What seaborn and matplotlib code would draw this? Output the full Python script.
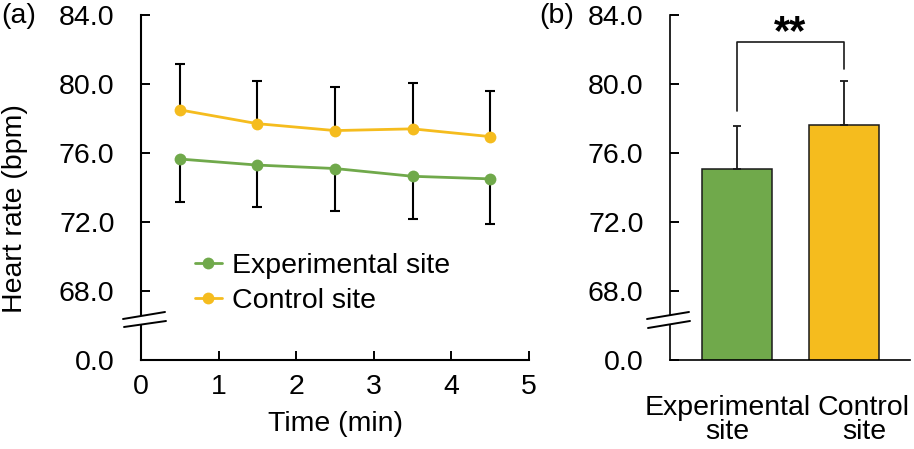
import matplotlib
matplotlib.use("Agg")
import matplotlib.pyplot as plt
import matplotlib.transforms as mtransforms
import seaborn as sns
import pandas as pd
import numpy as np

# ---------------- data ----------------
time_min = [0.5, 1.5, 2.5, 3.5, 4.5]
exp_mean = [75.65, 75.3, 75.1, 74.65, 74.5]
exp_sd = [2.5, 2.45, 2.45, 2.45, 2.6]
ctrl_mean = [78.5, 77.7, 77.3, 77.4, 76.95]
ctrl_sd = [2.65, 2.45, 2.55, 2.65, 2.65]

sites = ["Experimental site", "Control site"]
site_labels = ["Experimental\nsite", "Control\nsite"]
site_mean = [75.05, 77.6]
site_sd = [2.5, 2.55]

y_ticks = [64, 68, 72, 76, 80, 84]
y_ticklabels = ["0.0", "68.0", "72.0", "76.0", "80.0", "84.0"]
x_ticks = [0, 1, 2, 3, 4, 5]

GREEN = "#70A94B"
YELLOW = "#F5BC1E"

sns.set_theme(style="ticks")
plt.rcParams["font.family"] = ["Liberation Sans", "DejaVu Sans"]
for k in ("text.color", "axes.labelcolor", "xtick.color", "ytick.color",
          "axes.edgecolor"):
    plt.rcParams[k] = "black"
FS = 20.5

W, H = 914, 449
fig = plt.figure(figsize=(W / 100, H / 100), dpi=100)
ax1 = fig.add_axes([141 / W, 1 - 360 / H, 388 / W, 345 / H])
ax2 = fig.add_axes([670 / W, 1 - 360 / H, 240 / W, 345 / H])

# ---------------- left panel ----------------
df = pd.DataFrame({
    "time": time_min * 2,
    "hr": exp_mean + ctrl_mean,
    "site": [sites[0]] * len(time_min) + [sites[1]] * len(time_min),
})
ax1.errorbar(time_min, exp_mean, yerr=[exp_sd, np.zeros(len(exp_sd))], fmt="none",
             ecolor="black", elinewidth=1.5, capsize=3.5, capthick=1.5, zorder=1.5)
ax1.errorbar(time_min, ctrl_mean, yerr=[np.zeros(len(ctrl_sd)), ctrl_sd], fmt="none",
             ecolor="black", elinewidth=1.5, capsize=3.5, capthick=1.5, zorder=1.5)
sns.lineplot(data=df, x="time", y="hr", hue="site", hue_order=sites,
             palette={sites[0]: GREEN, sites[1]: YELLOW}, marker="o",
             markersize=8.5, markeredgewidth=0, linewidth=2, ax=ax1, zorder=3)
ax1.set_xlim(0, 5)
ax1.set_ylim(64, 84)
ax1.set_xticks(x_ticks)
ax1.set_xticklabels([str(t) for t in x_ticks])
ax1.set_yticks(y_ticks)
ax1.set_yticklabels(y_ticklabels)
ax1.set_xlabel("")
ax1.set_ylabel("")
handles, labels = ax1.get_legend_handles_labels()
ax1.legend(handles, labels, loc="upper left", bbox_to_anchor=(0.138, 0.31),
           frameon=False, fontsize=FS, handlelength=0.95, handletextpad=0.35,
           labelspacing=0.3, borderpad=0, borderaxespad=0, title=None)

# ---------------- right panel ----------------
dfb = pd.DataFrame({"site": sites, "hr": site_mean})
sns.barplot(data=dfb, x="site", y="hr", hue="site", hue_order=sites,
            palette={sites[0]: GREEN, sites[1]: YELLOW}, width=0.66, saturation=1,
            edgecolor="#1a1a1a", linewidth=1.1, legend=False, ax=ax2)
ax2.errorbar([0, 1], site_mean, yerr=[np.zeros(2), site_sd], fmt="none",
             ecolor="#1a1a1a", elinewidth=1.3, capsize=3, capthick=1.3, zorder=5)
ax2.set_xlim(-0.63, 1.62)
ax2.set_ylim(64, 84)
ax2.set_yticks(y_ticks)
ax2.set_yticklabels(y_ticklabels)
ax2.set_xticks([0, 1])
ax2.set_xticklabels(site_labels, linespacing=0.9)
ax2.set_xlabel("")
ax2.set_ylabel("")

# significance bracket
ax2.plot([0, 0, 1, 1], [78.43, 82.43, 82.43, 80.87], color="#1a1a1a", lw=1.2,
         clip_on=False)
ax2.text(0.5, 82.3, "**", ha="center", va="baseline", fontsize=30,
         fontweight="bold", clip_on=False)

# ---------------- styling ----------------
for ax in (ax1, ax2):
    sns.despine(ax=ax)
    ax.tick_params(axis="both", direction="in", labelsize=FS, colors="black",
                   length=6.5, width=1.4)
    ax.tick_params(axis="y", pad=19)
    ax.tick_params(axis="x", pad=10)
    for s in ("left", "bottom"):
        ax.spines[s].set_linewidth(1.5)
        ax.spines[s].set_color("black")
ax2.tick_params(axis="x", length=0, pad=25)
for s in ("left", "bottom"):
    ax2.spines[s].set_linewidth(1.2)

# shift category labels slightly as in the reference
shifts = [-10, 20]
for lab, dx in zip(ax2.get_xticklabels(), shifts):
    lab.set_transform(lab.get_transform() +
                      mtransforms.ScaledTranslation(dx / 100, 0, fig.dpi_scale_trans))


def axis_break(ax, ax_left_px, ax_w_px, up, lo, gap):
    """Draw a double-slash break mark on the y-axis (pixel geometry relative to axes)."""
    def ax_xy(px, py):
        return ((px - ax_left_px) / ax_w_px, (360 - py) / 345)
    x0, y0 = ax_xy(ax_left_px, gap[0])
    _, y1 = ax_xy(ax_left_px, gap[1])
    ax.plot([x0, x0], [y0, y1], color="white", lw=4, transform=ax.transAxes,
            clip_on=False, zorder=10, solid_capstyle="butt")
    for seg in (up, lo):
        (ax0, ay0), (ax1_, ay1) = ax_xy(*seg[0]), ax_xy(*seg[1])
        ax.plot([ax0, ax1_], [ay0, ay1], color="black", lw=1.4,
                transform=ax.transAxes, clip_on=False, zorder=11)


axis_break(ax1, 141, 388, ((123, 319), (165, 312)), ((124, 327), (166, 321)), (316, 324.5))
axis_break(ax2, 670, 240, ((647, 319), (689, 312)), ((648, 328), (690, 321)), (315.5, 324.5))

# labels
fig.text(15 / W, 1 - 209 / H, "Heart rate (bpm)", rotation=90, ha="center",
         va="center", fontsize=FS)
fig.text(335 / W, 1 - 424 / H, "Time (min)", ha="center", va="center", fontsize=FS)
fig.text(19 / W, 1 - 16 / H, "(a)", ha="center", va="center", fontsize=FS)
fig.text(557 / W, 1 - 16 / H, "(b)", ha="center", va="center", fontsize=FS)

fig.savefig("out.png", dpi=100)
